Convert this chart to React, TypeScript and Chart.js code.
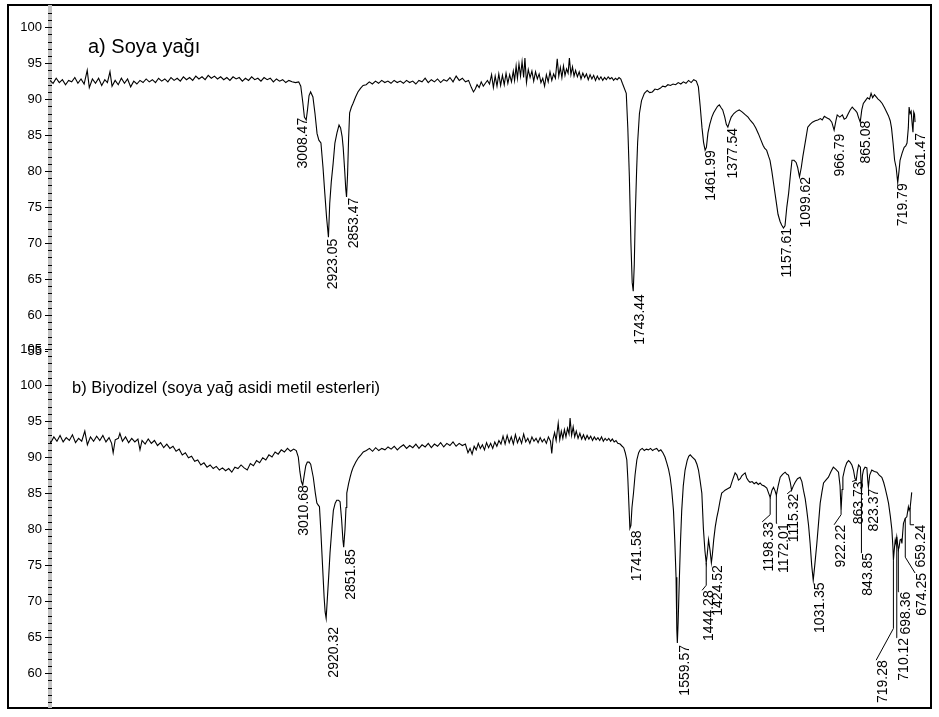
import React, { useEffect, useRef } from "react";
import { Chart, registerables } from "chart.js";

Chart.register(...registerables);

const FONT = "'Liberation Sans', Arial, Helvetica, sans-serif";

const titleA = "a) Soya yağı";
const titleB = "b) Biyodizel (soya yağ asidi metil esterleri)";

// x-axis (wavenumber, cm-1) ranges of the two panels
const xRangeA = [600, 4000];
const xRangeB = [582, 3991];
// y-axis (%T) ranges
const yRangeA = [55, 102.8];
const yRangeB = [55.3, 105];
const yLabelStep = 5;
const yMinorStep = 1;

// Spectrum a) soybean oil: [wavenumber, %T]
const soyaPoints: [number, number][] = [
  [4000, 92.6], [3988, 92.2], [3976, 92.9], [3964, 92.3], [3952, 92.7], [3940, 92.0], [3928, 92.6], [3916, 92.4],
  [3904, 93.0], [3892, 92.2], [3880, 92.8], [3868, 92.1], [3856, 94.0], [3848, 91.6], [3836, 92.8], [3824, 92.2],
  [3812, 92.9], [3800, 91.9], [3788, 92.7], [3778, 92.3], [3768, 93.8], [3760, 91.8], [3748, 92.6], [3736, 92.0],
  [3724, 92.9], [3712, 92.2], [3700, 92.8], [3688, 91.7], [3676, 92.5], [3664, 92.1], [3652, 92.6], [3640, 92.3],
  [3628, 92.8], [3616, 92.4], [3604, 92.7], [3592, 92.3], [3580, 92.9], [3568, 92.5], [3556, 92.8], [3544, 92.4],
  [3532, 93.0], [3520, 92.6], [3508, 92.9], [3496, 92.5], [3484, 93.1], [3472, 92.7], [3460, 93.0], [3448, 92.6],
  [3436, 93.2], [3424, 92.8], [3412, 93.1], [3400, 92.7], [3388, 93.3], [3376, 92.9], [3364, 93.2], [3352, 92.8],
  [3340, 93.1], [3328, 92.7], [3316, 93.0], [3304, 92.6], [3292, 93.1], [3280, 92.8], [3268, 93.0], [3256, 92.5],
  [3244, 92.9], [3232, 92.6], [3220, 93.1], [3208, 92.7], [3196, 92.9], [3184, 92.5], [3172, 93.0], [3160, 92.7],
  [3148, 92.9], [3136, 92.4], [3124, 92.8], [3112, 92.5], [3100, 92.7], [3088, 92.3], [3076, 92.6], [3064, 92.4],
  [3050, 92.3], [3038, 92.4], [3030, 91.8], [3022, 89.5], [3016, 87.5], [3009, 87.1], [3004, 88.5], [2998, 90.5],
  [2992, 91.0], [2983, 90.3], [2975, 88.0], [2967, 85.2], [2960, 84.3], [2952, 83.9], [2944, 80.5], [2937, 76.9],
  [2930, 73.5], [2923, 70.8], [2918, 75.5], [2912, 78.5], [2905, 81.0], [2898, 83.9], [2890, 85.3], [2882, 86.4],
  [2876, 86.0], [2870, 84.8], [2866, 83.3], [2860, 80.0], [2856, 77.5], [2853, 76.4], [2849, 79.5], [2845, 84.5],
  [2841, 88.1], [2834, 88.9], [2828, 89.4], [2818, 90.3], [2809, 91.0], [2799, 91.5], [2789, 91.9],
  [2777, 92.0], [2765, 92.4], [2753, 92.1], [2741, 92.5], [2729, 92.2], [2717, 92.6], [2705, 92.3], [2693, 92.5],
  [2681, 92.2], [2669, 92.6], [2657, 92.3], [2645, 92.5], [2633, 92.2], [2621, 92.6], [2609, 92.3], [2597, 92.5],
  [2585, 92.1], [2573, 92.6], [2561, 92.4], [2549, 92.9], [2537, 92.3], [2525, 92.7], [2513, 92.4], [2501, 92.8],
  [2489, 92.3], [2477, 92.7], [2465, 92.5], [2453, 93.0], [2441, 92.4], [2429, 93.2], [2417, 92.6], [2405, 92.9],
  [2393, 92.4], [2381, 92.6], [2370, 91.6], [2362, 91.0], [2355, 91.4], [2348, 92.0], [2340, 91.6], [2332, 92.4],
  [2324, 91.8], [2316, 92.2], [2308, 92.6], [2300, 92.1], [2292, 93.4], [2285, 91.6], [2278, 93.2], [2271, 91.8],
  [2264, 93.5], [2257, 91.9], [2250, 93.3], [2243, 92.0], [2236, 93.6], [2229, 92.2], [2222, 93.4], [2215, 92.4],
  [2208, 93.9], [2203, 92.6], [2197, 94.6], [2192, 92.9], [2186, 94.9], [2180, 93.2], [2174, 95.2], [2168, 93.0],
  [2163, 95.7], [2157, 92.3], [2150, 94.1], [2143, 93.0], [2136, 93.9], [2129, 92.5], [2122, 93.8], [2115, 92.8],
  [2108, 93.5], [2101, 92.3], [2094, 92.9], [2087, 91.8], [2080, 93.4], [2073, 92.4], [2066, 93.8], [2059, 92.6],
  [2052, 93.5], [2045, 92.9], [2038, 95.6], [2032, 93.2], [2026, 94.4], [2020, 93.0], [2014, 94.6], [2008, 93.3],
  [2002, 94.2], [1996, 93.6], [1991, 95.7], [1985, 93.4], [1979, 94.5], [1973, 93.2], [1967, 94.0], [1960, 93.1],
  [1953, 93.8], [1946, 92.8], [1939, 93.6], [1932, 93.0], [1925, 93.5], [1918, 92.7], [1911, 93.4], [1904, 92.8],
  [1897, 93.3], [1890, 92.6], [1883, 93.2], [1876, 92.7], [1869, 93.1], [1862, 92.6], [1855, 93.0], [1848, 92.7],
  [1841, 93.1], [1834, 92.8], [1827, 93.0], [1820, 92.6], [1813, 92.9], [1806, 92.7], [1799, 93.0], [1792, 92.8],
  [1786, 92.2], [1771, 90.8], [1765, 86.0], [1759, 79.2], [1753, 70.0], [1748, 64.5], [1744, 63.3], [1740, 67.0],
  [1736, 74.0], [1731, 80.0], [1727, 84.0], [1720, 88.0], [1712, 89.8], [1701, 90.8], [1690, 91.2], [1680, 90.9],
  [1670, 91.0], [1660, 91.4], [1650, 91.3], [1640, 91.5], [1630, 91.8], [1620, 91.7], [1610, 92.0], [1600, 91.9],
  [1590, 92.1], [1580, 92.0], [1570, 92.3], [1560, 92.1], [1550, 92.4], [1540, 92.2], [1530, 92.6], [1520, 92.3],
  [1510, 92.7], [1500, 92.5], [1492, 91.7], [1485, 89.0], [1478, 86.0], [1472, 84.0], [1466, 82.9], [1461, 83.3],
  [1455, 85.3], [1448, 86.5], [1440, 87.5], [1433, 88.1], [1425, 88.6], [1418, 89.0], [1411, 89.2], [1404, 88.8],
  [1398, 88.5], [1390, 87.5], [1384, 86.5], [1378, 86.1], [1372, 86.8], [1365, 87.5], [1355, 88.0], [1345, 88.3],
  [1334, 88.5], [1322, 88.2], [1310, 87.8], [1300, 87.5], [1290, 87.0], [1280, 86.6], [1270, 86.0], [1260, 85.2],
  [1250, 84.3], [1242, 83.6], [1236, 83.2], [1228, 82.9], [1220, 82.0], [1215, 81.5], [1208, 80.0], [1200, 78.0],
  [1192, 76.0], [1184, 74.0], [1176, 73.0], [1170, 72.5], [1163, 72.1], [1157, 72.4], [1150, 75.0], [1143, 76.9],
  [1136, 79.5], [1130, 81.5], [1122, 81.5], [1114, 81.2], [1108, 80.5], [1101, 79.2], [1094, 80.5], [1088, 82.0],
  [1082, 83.3], [1075, 84.8], [1069, 86.1], [1060, 86.5], [1051, 86.8], [1040, 87.0], [1030, 87.1], [1020, 87.3],
  [1013, 87.1], [1005, 87.6], [996, 87.4], [985, 87.2], [976, 86.8], [967, 85.7], [960, 87.0], [955, 87.8],
  [945, 87.5], [935, 87.8], [928, 87.2], [920, 87.4], [912, 88.0], [905, 88.5], [897, 88.9], [890, 88.6],
  [884, 88.4], [878, 88.1], [873, 87.5], [866, 86.8], [860, 88.5], [854, 89.4], [846, 89.8], [838, 90.2],
  [830, 90.0], [824, 90.8], [818, 90.2], [811, 90.6], [804, 90.3], [797, 90.0], [790, 89.8], [781, 89.4],
  [772, 88.8], [764, 88.2], [757, 87.7], [750, 87.0], [745, 86.0], [739, 83.9], [733, 81.5], [727, 80.5],
  [721, 78.4], [716, 80.0], [712, 81.5], [704, 82.5], [696, 83.3], [690, 83.5], [685, 83.9], [680, 86.0],
  [677, 88.9], [673, 88.0], [669, 88.3], [665, 86.5], [662, 85.4], [659, 88.2], [656, 87.9], [654, 86.8],
];

// Spectrum b) biodiesel (soybean oil fatty acid methyl esters): [wavenumber, %T]
const biodPoints: [number, number][] = [
  [4000, 92.6], [3988, 92.0], [3976, 92.8], [3964, 92.2], [3952, 93.0], [3940, 92.1], [3928, 92.7], [3916, 92.3],
  [3904, 93.1], [3892, 92.0], [3880, 92.6], [3868, 92.2], [3856, 93.6], [3846, 91.7], [3834, 92.8], [3822, 92.2],
  [3810, 92.9], [3798, 92.3], [3786, 93.0], [3774, 92.1], [3762, 92.7], [3752, 91.9], [3746, 90.6], [3738, 92.4],
  [3726, 92.6], [3720, 93.3], [3710, 92.2], [3698, 92.8], [3686, 92.0], [3674, 92.6], [3662, 92.1], [3650, 92.5],
  [3642, 91.0], [3634, 92.3], [3622, 91.8], [3610, 92.5], [3598, 91.9], [3586, 92.3], [3574, 91.6], [3562, 92.0],
  [3550, 91.3], [3538, 91.8], [3526, 91.2], [3514, 91.5], [3502, 90.8], [3490, 91.1], [3478, 90.3], [3466, 90.6],
  [3454, 89.9], [3442, 90.1], [3430, 89.4], [3418, 89.6], [3406, 88.9], [3394, 89.2], [3382, 88.6], [3370, 88.9],
  [3358, 88.4], [3346, 88.7], [3334, 88.2], [3322, 88.5], [3310, 88.1], [3298, 88.4], [3286, 87.9], [3274, 88.6],
  [3262, 88.4], [3250, 88.9], [3238, 88.5], [3226, 88.2], [3214, 89.1], [3202, 88.8], [3190, 89.5], [3178, 89.2],
  [3166, 89.9], [3154, 89.6], [3142, 90.3], [3130, 90.0], [3118, 90.7], [3106, 90.4], [3094, 91.0], [3082, 90.7],
  [3070, 91.2], [3058, 90.8], [3046, 91.1], [3036, 90.9], [3028, 90.0], [3022, 88.0], [3016, 86.6], [3011, 86.1],
  [3005, 87.5], [2999, 88.8], [2993, 89.3], [2986, 89.3], [2980, 89.0], [2970, 87.2], [2962, 85.0], [2956, 83.6],
  [2950, 83.3], [2946, 83.1], [2941, 80.0], [2937, 77.1], [2932, 73.5], [2928, 70.6], [2924, 68.5], [2920, 67.6],
  [2916, 70.0], [2910, 73.5], [2905, 76.7], [2898, 80.0], [2892, 82.6], [2885, 83.6], [2879, 84.0], [2872, 84.0],
  [2866, 83.8], [2860, 81.3], [2855, 78.5], [2852, 77.5], [2847, 79.9], [2843, 83.0], [2840, 85.0], [2833, 86.3],
  [2827, 87.2], [2821, 88.0], [2815, 88.6], [2805, 89.3], [2795, 89.9], [2785, 90.3], [2776, 90.7], [2764, 90.9],
  [2752, 91.2], [2740, 90.8], [2728, 91.3], [2716, 90.9], [2704, 91.2], [2692, 91.0], [2680, 91.4], [2668, 91.1],
  [2656, 91.5], [2644, 91.0], [2632, 91.4], [2620, 91.7], [2608, 91.2], [2596, 91.6], [2584, 91.3], [2572, 91.8],
  [2560, 91.2], [2548, 91.7], [2536, 91.4], [2524, 91.9], [2512, 91.3], [2500, 91.8], [2488, 91.5], [2476, 92.0],
  [2464, 91.4], [2452, 91.9], [2440, 91.6], [2428, 92.1], [2416, 91.5], [2404, 91.9], [2392, 91.6], [2380, 91.8],
  [2370, 90.6], [2362, 91.2], [2354, 90.4], [2346, 91.5], [2338, 91.0], [2330, 91.9], [2322, 91.2], [2314, 91.7],
  [2306, 91.0], [2298, 92.0], [2290, 91.3], [2282, 91.9], [2274, 91.2], [2266, 92.1], [2258, 91.5], [2250, 92.3],
  [2242, 91.8], [2234, 92.9], [2226, 91.8], [2218, 93.0], [2210, 92.0], [2202, 92.8], [2194, 91.8], [2186, 93.1],
  [2178, 92.0], [2170, 92.7], [2162, 91.9], [2154, 93.2], [2146, 92.1], [2138, 92.6], [2130, 91.9], [2122, 92.8],
  [2114, 92.2], [2106, 92.6], [2098, 92.0], [2090, 92.7], [2082, 92.1], [2074, 92.5], [2066, 91.9], [2058, 92.8],
  [2050, 92.2], [2045, 90.5], [2040, 92.5], [2034, 93.4], [2028, 92.3], [2020, 94.7], [2014, 92.4], [2008, 93.6],
  [2002, 92.6], [1996, 93.8], [1990, 92.8], [1984, 94.0], [1978, 93.2], [1974, 95.4], [1968, 93.0], [1962, 94.2],
  [1956, 92.8], [1950, 93.6], [1943, 92.6], [1936, 93.3], [1929, 92.5], [1922, 93.1], [1915, 92.4], [1908, 93.0],
  [1901, 92.5], [1894, 92.9], [1887, 92.3], [1880, 92.8], [1873, 92.4], [1866, 92.7], [1859, 92.3], [1852, 92.8],
  [1845, 92.2], [1838, 92.6], [1831, 92.3], [1824, 92.6], [1817, 92.2], [1810, 92.5], [1803, 92.1], [1796, 92.3],
  [1789, 91.9], [1780, 91.8], [1772, 91.5], [1766, 91.3], [1760, 90.6], [1754, 89.6], [1750, 87.0], [1746, 83.5],
  [1742, 80.1], [1738, 80.5], [1734, 83.0], [1728, 85.0], [1722, 87.5], [1715, 89.6], [1708, 90.6], [1702, 91.0],
  [1694, 91.2], [1686, 90.9], [1678, 91.1], [1670, 91.0], [1662, 91.2], [1654, 90.9], [1646, 91.1], [1638, 91.2],
  [1630, 90.8], [1622, 91.0], [1614, 90.6], [1606, 90.0], [1599, 89.2], [1592, 88.3], [1586, 87.2], [1580, 85.5],
  [1573, 82.6], [1568, 78.5], [1563, 73.3], [1560, 66.0], [1558, 64.2], [1555, 67.0], [1550, 73.3], [1546, 78.0],
  [1541, 82.6], [1535, 86.0], [1528, 88.2], [1520, 89.5], [1514, 90.1], [1508, 90.3], [1500, 90.0], [1489, 89.6],
  [1482, 89.0], [1476, 88.2], [1470, 86.8], [1463, 85.0], [1457, 80.1], [1451, 77.0], [1446, 75.3], [1442, 76.5],
  [1437, 78.5], [1431, 77.0], [1426, 75.3], [1422, 76.5], [1417, 78.5], [1411, 80.3], [1405, 81.6], [1399, 82.6],
  [1392, 84.0], [1386, 85.0], [1379, 85.2], [1373, 85.4], [1363, 85.6], [1353, 85.8], [1344, 86.8], [1334, 87.8],
  [1327, 87.5], [1321, 86.8], [1314, 87.0], [1308, 87.4], [1302, 87.6], [1295, 87.8], [1289, 87.1], [1282, 86.7],
  [1276, 86.5], [1268, 86.6], [1260, 86.3], [1252, 86.5], [1244, 86.2], [1237, 86.4], [1230, 86.1], [1222, 86.0],
  [1211, 85.7], [1204, 85.0], [1198, 84.4], [1191, 85.4], [1185, 85.8], [1179, 85.3], [1174, 84.7], [1167, 86.0],
  [1159, 87.2], [1150, 87.6], [1140, 87.9], [1133, 87.6], [1127, 87.5], [1120, 86.5], [1115, 85.4], [1108, 86.0],
  [1101, 86.5], [1092, 87.0], [1082, 87.2], [1075, 86.6], [1069, 85.4], [1062, 84.2], [1056, 82.6], [1049, 80.5],
  [1043, 78.0], [1037, 75.0], [1031, 72.9], [1025, 75.0], [1017, 78.0], [1010, 81.0], [1004, 83.6], [997, 85.2],
  [991, 86.4], [982, 86.8], [972, 87.2], [962, 88.0], [953, 88.6], [943, 88.3], [933, 87.9], [927, 86.0],
  [923, 82.6], [919, 85.5], [916, 87.2], [908, 88.5], [901, 89.2], [894, 89.5], [888, 89.3], [881, 88.9],
  [875, 88.2], [869, 87.0], [864, 86.8], [860, 88.0], [855, 88.9], [848, 88.6], [844, 85.0], [840, 87.5],
  [836, 88.2], [830, 88.6], [823, 88.5], [819, 86.5], [817, 85.8], [812, 87.5], [804, 88.2], [794, 88.0],
  [784, 87.9], [775, 87.5], [765, 87.2], [758, 86.5], [752, 85.7], [745, 84.6], [739, 83.6], [732, 81.8],
  [726, 79.9], [722, 77.5], [720, 75.7], [717, 77.0], [713, 78.5], [710, 78.0], [707, 78.9], [704, 78.0],
  [701, 77.1], [698, 77.5], [694, 78.5], [690, 78.6], [687, 78.0], [684, 79.5], [681, 80.8], [674, 81.5],
  [668, 81.7], [662, 83.1], [659, 82.6], [655, 83.0], [649, 85.1],
];

// Peak annotations: [label, peak cm-1, peak %T, leader knee %T (null = no leader), label cm-1, label %T]
type Peak = [string, number, number, number | null, number, number];

const soyaPeaks: Peak[] = [
  ["3008.47", 3009, 87.1, null, 3046, 87.4],
  ["2923.05", 2923, 70.8, null, 2930, 70.6],
  ["2853.47", 2853, 76.4, null, 2852, 76.3],
  ["1743.44", 1744, 63.3, null, 1743, 62.9],
  ["1461.99", 1466, 82.9, null, 1469, 82.9],
  ["1377.54", 1378, 86.1, null, 1384, 86.0],
  ["1157.61", 1163, 72.1, null, 1175, 72.1],
  ["1099.62", 1101, 79.2, null, 1102, 79.2],
  ["966.79", 967, 85.7, null, 971, 85.2],
  ["865.08", 866, 86.8, null, 870, 87.0],
  ["719.79", 721, 78.4, null, 727, 78.3],
  ["661.47", 662, 85.4, null, 658, 85.3],
];

const biodPeaks: Peak[] = [
  ["3010.68", 3011, 86.1, null, 3033, 86.1],
  ["2920.32", 2920, 67.6, null, 2917, 66.4],
  ["2851.85", 2852, 77.5, null, 2851, 77.2],
  ["1741.58", 1742, 80.1, null, 1741, 79.8],
  ["1559.57", 1558, 64.2, null, 1555, 63.9],
  ["1444.28", 1446, 75.3, 72.2, 1462, 71.5],
  ["1424.52", 1426, 75.3, null, 1427, 75.0],
  ["1198.33", 1198, 84.4, 82.0, 1229, 81.0],
  ["1172.01", 1174, 84.7, 80.8, 1171, 80.8],
  ["1115.32", 1115, 85.4, 85.4, 1132, 84.9],
  ["1031.35", 1031, 72.9, null, 1031, 72.6],
  ["922.22", 923, 82.6, 82.0, 950, 80.6],
  ["863.73", 864, 86.8, 86.8, 880, 86.6],
  ["843.85", 844, 85.0, 76.7, 846, 76.7],
  ["823.37", 817, 85.8, null, 822, 85.6],
  ["719.28", 720, 75.7, 66.2, 787, 61.8],
  ["710.12", 707, 78.9, 64.9, 706, 64.9],
  ["698.36", 701, 77.1, 71.3, 698, 71.3],
  ["674.25", 674, 81.5, 76.1, 636, 73.9],
  ["659.24", 655, 83.0, 80.6, 640, 80.6],
];

function makePeakPlugin(peaks: Peak[]) {
  return {
    id: "peakLabels",
    afterDatasetsDraw(chart: any) {
      const { ctx } = chart;
      const xs = chart.scales.x;
      const ys = chart.scales.y;
      ctx.save();
      ctx.font = `14px ${FONT}`;
      ctx.fillStyle = "#000";
      ctx.strokeStyle = "#000";
      ctx.lineWidth = 1;
      for (const [text, pw, pt, kt, lw, lt] of peaks) {
        const ax = xs.getPixelForValue(lw);
        const ay = ys.getPixelForValue(lt);
        if (kt !== null) {
          const px = xs.getPixelForValue(pw);
          const py = ys.getPixelForValue(pt);
          const ky = ys.getPixelForValue(kt);
          ctx.beginPath();
          ctx.moveTo(px, py);
          ctx.lineTo(px, ky);
          ctx.lineTo(ax, ay);
          ctx.stroke();
        }
        ctx.save();
        ctx.translate(ax, ay);
        ctx.rotate(-Math.PI / 2);
        ctx.textAlign = "right";
        ctx.textBaseline = "top";
        ctx.fillText(text, 0, 0);
        ctx.restore();
      }
      ctx.restore();
    },
  };
}

const minorTickPlugin = {
  id: "minorTicks",
  afterDraw(chart: any) {
    const { ctx, chartArea } = chart;
    const ys = chart.scales.y;
    const left = chartArea.left;
    ctx.save();
    ctx.strokeStyle = "#000";
    ctx.lineWidth = 1;
    ctx.beginPath();
    for (let v = Math.ceil(ys.min); v <= Math.floor(ys.max); v += yMinorStep) {
      const py = Math.round(ys.getPixelForValue(v)) + 0.5;
      const major = v % yLabelStep === 0;
      ctx.moveTo(left - (major ? 5 : 2), py);
      ctx.lineTo(left + 2, py);
    }
    ctx.stroke();
    ctx.restore();
  },
};

function makeConfig(points: [number, number][], peaks: Peak[], xr: number[], yr: number[], padTop: number, padBottom: number): any {
  return {
    type: "line",
    data: {
      datasets: [
        {
          data: points.map(([x, y]) => ({ x, y })),
          borderColor: "#000",
          borderWidth: 1.1,
          pointRadius: 0,
          tension: 0,
          fill: false,
        },
      ],
    },
    options: {
      responsive: false,
      animation: false,
      devicePixelRatio: 1,
      layout: { padding: { top: padTop, bottom: padBottom, left: 0, right: 10 } },
      plugins: { legend: { display: false }, tooltip: { enabled: false }, title: { display: false } },
      scales: {
        x: { type: "linear", reverse: true, min: xr[0], max: xr[1], display: false },
        y: {
          type: "linear",
          min: yr[0],
          max: yr[1],
          afterFit: (s: any) => {
            s.width = 50;
            s.paddingTop = 0;
            s.paddingBottom = 0;
          },
          grid: { display: false, drawTicks: false },
          border: { display: true, color: "#c4c4c4", width: 4 },
          ticks: {
            stepSize: yLabelStep,
            includeBounds: false,
            autoSkip: false,
            padding: 8,
            color: "#000",
            font: { family: FONT, size: 13 },
          },
        },
      },
    },
    plugins: [makePeakPlugin(peaks), minorTickPlugin],
  };
}

export default function App() {
  const refA = useRef<HTMLCanvasElement>(null);
  const refB = useRef<HTMLCanvasElement>(null);

  useEffect(() => {
    const a = new Chart(refA.current!, makeConfig(soyaPoints, soyaPeaks, xRangeA, yRangeA, 7, 9));
    const b = new Chart(refB.current!, makeConfig(biodPoints, biodPeaks, xRangeB, yRangeB, 9, 10));
    return () => {
      a.destroy();
      b.destroy();
    };
  }, []);

  const titleStyle: React.CSSProperties = {
    position: "absolute",
    fontFamily: FONT,
    color: "#000",
    whiteSpace: "nowrap",
  };

  return (
    <div style={{ position: "absolute", left: 0, top: 0, width: 939, height: 717, background: "#fff" }}>
      <div
        style={{
          position: "absolute",
          left: 7,
          top: 4,
          width: 925,
          height: 705,
          border: "2px solid #000",
          boxSizing: "border-box",
        }}
      />
      <canvas ref={refA} width={939} height={360} style={{ position: "absolute", left: 0, top: 0 }} />
      <canvas ref={refB} width={939} height={377} style={{ position: "absolute", left: 0, top: 340 }} />
      <div style={{ ...titleStyle, left: 88, top: 36, fontSize: 20, lineHeight: "20px" }}>{titleA}</div>
      <div style={{ ...titleStyle, left: 72, top: 379, fontSize: 16.5, lineHeight: "16px" }}>{titleB}</div>
    </div>
  );
}
